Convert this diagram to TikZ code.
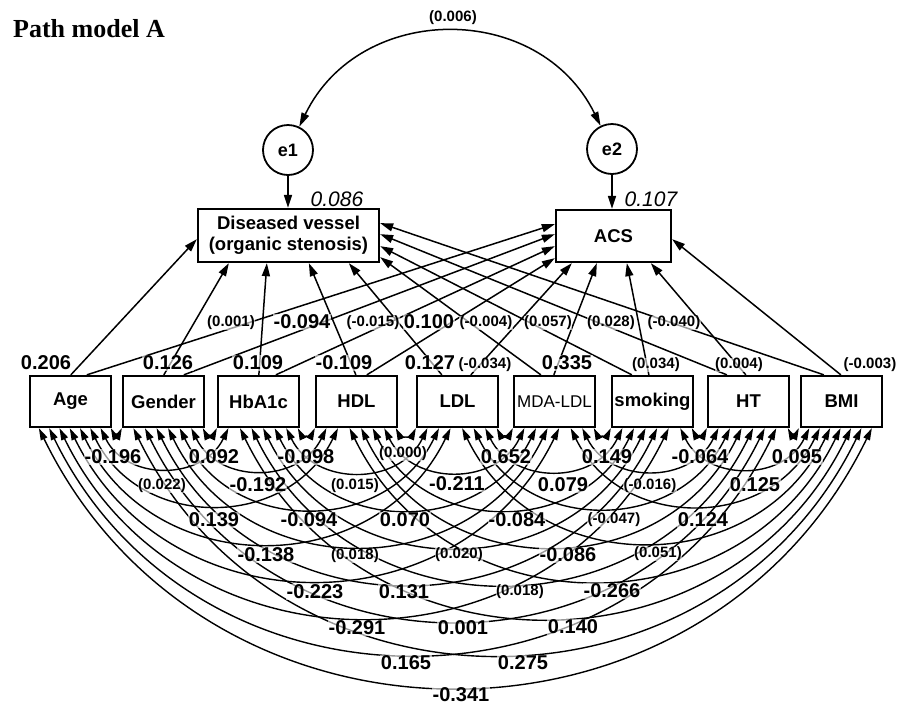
\documentclass[tikz,border=0pt]{standalone}
\usepackage{fontspec}
\setmainfont{Liberation Sans}
\newfontfamily\titlefont{Liberation Serif}
\usetikzlibrary{arrows.meta,calc}
\begin{document}
\begin{tikzpicture}[x=1pt,y=-1pt,
  box/.style={draw,line width=2.3pt,minimum width=81pt,minimum height=51pt,inner sep=0pt,align=center,font=\fontsize{18.5}{21}\selectfont\bfseries},
  err/.style={circle,draw,line width=1.8pt,minimum size=50pt,inner sep=0pt,font=\fontsize{18}{20}\selectfont\bfseries},
  arr/.style={line width=1.5pt,-{Triangle[length=13pt,width=8pt]}},
  cov/.style={line width=1.4pt,{Triangle[length=12pt,width=7pt]}-{Triangle[length=12pt,width=7pt]}},
  big/.style={font=\fontsize{20}{20}\selectfont\bfseries,inner sep=0.5pt,fill=white,fill opacity=0.6,text opacity=1},
  small/.style={font=\fontsize{15}{15}\selectfont\bfseries,inner sep=0.5pt,fill=white,fill opacity=0.6,text opacity=1},
  rsq/.style={font=\fontsize{21}{21}\selectfont\itshape,inner sep=0pt}
]
\useasboundingbox (0,0) rectangle (903,705);
\fill[white] (0,0) rectangle (903,705);

\node[anchor=base west,inner sep=0pt,font=\titlefont\fontsize{26}{26}\selectfont\bfseries] (title) at (13,37) {Path model A};

% predictors
\node[box] (b0) at (70.5,401.5) {Age};
\node[box] (b1) at (163.5,401.5) {Gender};
\node[box] (b2) at (258.5,401.5) {HbA1c};
\node[box] (b3) at (356.5,401.5) {HDL};
\node[box] (b4) at (457.5,401.5) {LDL};
\node[box,font=\fontsize{17}{20}\selectfont] (b5) at (554.5,401.5) {MDA-LDL};
\node[box] (b6) at (652.5,401.5) {smoking};
\node[box] (b7) at (748.5,401.5) {HT};
\node[box] (b8) at (841.5,401.5) {BMI};

% outcomes
\node[box,minimum width=181pt,minimum height=53pt] (dv) at (288.5,235.5) {Diseased vessel\\(organic stenosis)};
\node[box,minimum width=115pt,minimum height=52pt] (acs) at (613.5,236) {ACS};
\node[err] (e1) at (288,150) {e1};
\node[err] (e2) at (612,149) {e2};
\node[rsq] (r1) at (337,199) {0.086};
\node[rsq] (r2) at (651,199) {0.107};

\draw[arr] (e1.south) -- (e1.south |- dv.north);
\draw[arr] (e2.south) -- (e2.south |- acs.north);
\draw[cov,line width=1.5pt,{Triangle[length=14pt,width=8pt]}-{Triangle[length=14pt,width=8pt]}] (e1) to[bend left=64,looseness=1.18] (e2);
\node[small] (c0) at (453,18) {(0.006)};

% regressions to Diseased vessel
\draw[arr] ($(b0.north west)+(42,0)$) -- ($(dv.south west)+(0,-24)$);
\draw[arr] ($(b1.north west)+(42,0)$) -- ($(dv.south west)+(32,0)$);
\draw[arr] ($(b2.north west)+(42,0)$) -- ($(dv.south west)+(70,0)$);
\draw[arr] ($(b3.north west)+(41,0)$) -- ($(dv.south west)+(112,0)$);
\draw[arr] ($(b4.north west)+(26,0)$) -- ($(dv.south west)+(152,0)$);
\draw[arr] ($(b5.north west)+(28,0)$) -- ($(dv.south east)+(0,-6)$);
\draw[arr] ($(b6.north west)+(21,0)$) -- ($(dv.south east)+(0,-17)$);
\draw[arr] ($(b7.north west)+(20,0)$) -- ($(dv.south east)+(0,-29)$);
\draw[arr] ($(b8.north west)+(24,0)$) -- ($(dv.south east)+(0,-40)$);
% regressions to ACS
\draw[arr] ($(b0.north west)+(58,0)$) -- ($(acs.south west)+(0,-39)$);
\draw[arr] ($(b1.north west)+(62,0)$) -- ($(acs.south west)+(0,-29)$);
\draw[arr] ($(b2.north west)+(59,0)$) -- ($(acs.south west)+(0,-17)$);
\draw[arr] ($(b3.north west)+(52,0)$) -- ($(acs.south west)+(0,-5)$);
\draw[arr] ($(b4.north west)+(55,0)$) -- ($(acs.south west)+(17,0)$);
\draw[arr] ($(b5.north west)+(41,0)$) -- ($(acs.south west)+(42,0)$);
\draw[arr] ($(b6.north west)+(38,0)$) -- ($(acs.south west)+(72,0)$);
\draw[arr] ($(b7.north west)+(39,0)$) -- ($(acs.south west)+(96,0)$);
\draw[arr] ($(b8.north west)+(41,0)$) -- ($(acs.south east)+(0,-24)$);

% covariances among predictors
\def\Off{{10,0,0,0,0,0,0,0,-1}}
\def\St{{10.29,11.57,11.57,11.57,11.57,11.57,11.57,11.57,10.43}}
\foreach \i in {0,...,7}{
  \pgfmathtruncatemacro\js{\i+1}
  \foreach \j in {\js,...,8}{
    \pgfmathsetmacro\oa{\Off[\i]+(\i+8-\j)*\St[\i]}
    \pgfmathsetmacro\ob{\Off[\j]+(\j-\i-1)*\St[\j]}
    \draw[cov] ($(b\i.south west)+(\oa,0)$) to[bend right=64,looseness=1.18] ($(b\j.south west)+(\ob,0)$);
  }
}

% path labels
\foreach \x/\y/\t/\s [count=\n] in {
  46/363/0.206/big, 168/363/0.126/big, 258/363/0.109/big, 344/363/-0.109/big,
  430/363/0.127/big, 485/365/(-0.034)/small, 567/363/0.335/big, 656/365/(0.034)/small,
  739/365/(0.004)/small, 870/365/(-0.003)/small,
  231/323/(0.001)/small, 302/322/-0.094/big, 373/323/(-0.015)/small, 429/322/0.100/big,
  486/323/(-0.004)/small, 548/323/(0.057)/small, 611/323/(0.028)/small, 674/323/(-0.040)/small}
  \node[\s] (p\n) at (\x,\y) {\t};

% covariance labels
\foreach \x/\y/\t/\s [count=\n] in {
  113/457/-0.196/big, 214/457/0.092/big, 306/457/-0.098/big, 403/454/(0.000)/small,
  506/457/0.652/big, 607/457/0.149/big, 700/457/-0.064/big, 797/457/0.095/big,
  162/486/(0.022)/small, 258/485/-0.192/big, 355/486/(0.015)/small, 457/484/-0.211/big,
  563/485/0.079/big, 650/486/(-0.016)/small, 755/485/0.125/big,
  214/520/0.139/big, 309/520/-0.094/big, 405/520/0.070/big, 517/520/-0.084/big,
  614/520/(-0.047)/small, 703/520/0.124/big,
  266/555/-0.138/big, 355/556/(0.018)/small, 459/555/(0.020)/small, 568/555/-0.086/big,
  658/554/(0.051)/small,
  315/592/-0.223/big, 404/592/0.131/big, 520/592/(0.018)/small, 612/591/-0.266/big,
  357/628/-0.291/big, 463/628/0.001/big, 573/627/0.140/big,
  406/663/0.165/big, 523/663/0.275/big,
  461/695/-0.341/big}
  \node[\s] (k\n) at (\x,\y) {\t};
\end{tikzpicture}
\end{document}
